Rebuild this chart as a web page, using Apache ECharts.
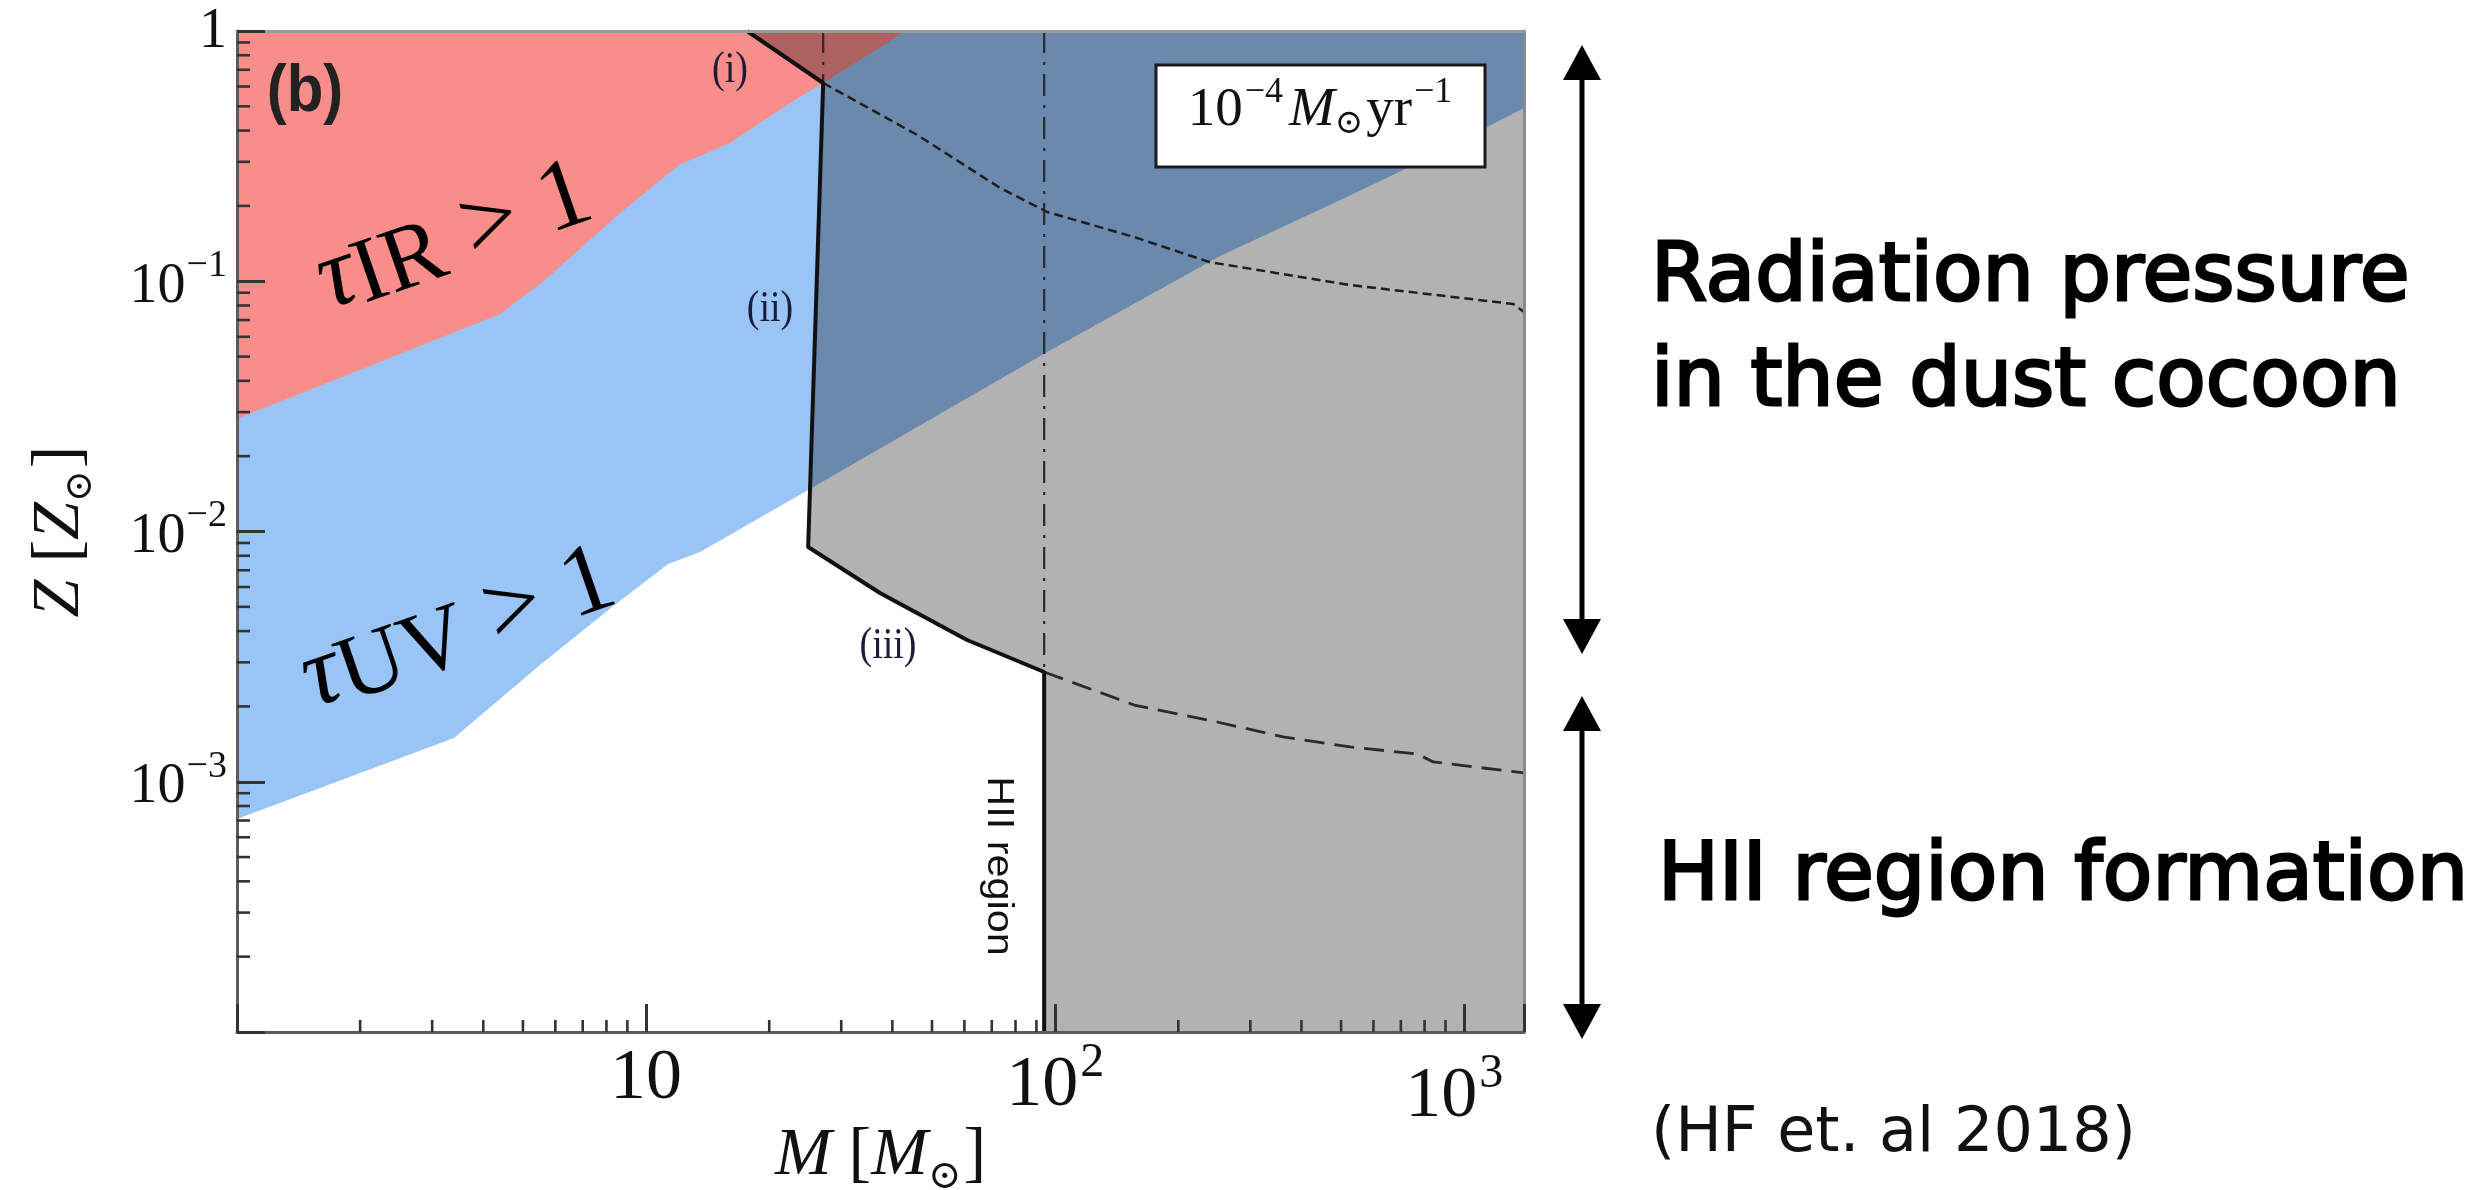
<!DOCTYPE html>
<html>
<head>
<meta charset="utf-8">
<script src="https://cdn.jsdelivr.net/npm/echarts@6/dist/echarts.min.js"></script>
<style>
  html, body { margin: 0; padding: 0; background: #ffffff; }
  #chart { width: 2489px; height: 1190px; }
</style>
</head>
<body>
<div id="chart"></div>
<script>
// ---------------- DATA ----------------
// Axis extents (log scales)
const massRange = [1, 1400];          // M [M_sun]
const metalRange = [1e-4, 1];         // Z [Z_sun]

// Lower edge of the tau_IR > 1 (red) region, from left edge to top edge
const irEdgeM = [1, 4.40, 5.66, 8.64, 12.04, 16.0, 23.3, 27.1, 43.2];
const irEdgeZ = [0.0282, 0.0740, 0.1011, 0.1874, 0.2914, 0.3567, 0.535, 0.6196, 1];

// Lower edge of the tau_UV > 1 (blue) region, from left edge to right edge
const uvEdgeM = [1, 3.39, 5.54, 8.26, 11.32, 13.55, 24.9, 95.6, 253, 498, 693, 1400];
const uvEdgeZ = [7.10e-4, 1.495e-3, 2.955e-3, 4.99e-3, 7.42e-3, 8.28e-3, 0.01466, 0.0522, 0.1262, 0.2113, 0.2733, 0.4923];

// Solid boundary (i)-(ii)-(iii)-HII region of the grey (failed) region
const boundaryM = [17.66, 27.1, 24.9, 37.3, 60.9, 94, 94];
const boundaryZ = [1, 0.6196, 8.67e-3, 5.68e-3, 3.685e-3, 2.745e-3, 1e-4];

// Fine dashed curve (upper)
const upperDashM = [27.1, 46.0, 73.4, 95.6, 156, 238, 526, 1318, 1400];
const upperDashZ = [0.6196, 0.3842, 0.2359, 0.1891, 0.1502, 0.1194, 0.0966, 0.0811, 0.0754];

// Long dashed curve (lower)
const lowerDashM = [94, 156, 249, 361, 526, 768, 840, 1113, 1400];
const lowerDashZ = [2.745e-3, 2.026e-3, 1.733e-3, 1.51e-3, 1.377e-3, 1.291e-3, 1.2e-3, 1.135e-3, 1.084e-3];

// Vertical dash-dot lines: mass, top Z, bottom Z
const dashDotM = [27.1, 94];
const dashDotTopZ = [1, 1];
const dashDotBottomZ = [0.6196, 2.745e-3];

// Tick labels
const xTickExponents = [1, 2, 3];
const yTickExponents = [0, -1, -2, -3];
const minorMultipliers = [2, 3, 4, 5, 6, 7, 8, 9];

// ---------------- helpers ----------------
const SERIF = "'Liberation Serif', 'DejaVu Serif', serif";
const SANS = "'DejaVu Sans', 'Noto Sans', sans-serif";

function pairs(xs, ys) { return xs.map((x, i) => [x, ys[i]]); }

function polygonSeries(points, fill, z) {
  return {
    type: 'custom', silent: true, z: z, clip: true,
    data: points,
    renderItem: function (params, api) {
      if (params.dataIndex !== 0) return null;
      const pts = points.map(p => api.coord(p));
      return { type: 'polygon', shape: { points: pts }, style: { fill: fill } };
    }
  };
}

function lineSeries(points, color, width, type, z) {
  return {
    type: 'line', data: points, symbol: 'none', silent: true, z: z,
    lineStyle: { color: color, width: width, type: type, cap: 'butt' },
    animation: false
  };
}

// minor tick values
const xMinor = [];
[1, 10, 100].forEach(d => minorMultipliers.forEach(m => { if (m * d < massRange[1]) xMinor.push(m * d); }));
const yMinor = [];
[1e-4, 1e-3, 1e-2, 1e-1].forEach(d => minorMultipliers.forEach(m => yMinor.push(+(m * d).toPrecision(3))));

// polygons
const bluePoly = pairs(uvEdgeM, uvEdgeZ).concat([[massRange[1], metalRange[1]], [massRange[0], metalRange[1]]]);
const redPoly = pairs(irEdgeM, irEdgeZ).concat([[massRange[0], metalRange[1]]]);
const greyPoly = pairs(boundaryM, boundaryZ).concat([[massRange[1], metalRange[0]], [massRange[1], metalRange[1]]]);

function expOf(v) { return Math.round(Math.log10(v)); }
function isPow(v) { return Math.abs(Math.log10(v) - expOf(v)) < 0.01; }

const option = {
  animation: false,
  backgroundColor: '#ffffff',
  grid: { left: 237, top: 31, right: 965, bottom: 158, containLabel: false, outerBoundsMode: 'none' },
  xAxis: [{
    type: 'log', logBase: 10, min: massRange[0], max: massRange[1], z: 10,
    axisLine: { show: true, onZero: false, lineStyle: { color: '#5c5c5c', width: 3 } },
    axisTick: { show: true, inside: true, length: 28, lineStyle: { color: '#333', width: 3 } },
    minorTick: { show: false }, splitLine: { show: false }, minorSplitLine: { show: false },
    axisLabel: {
      margin: 3, showMinLabel: true, showMaxLabel: true, hideOverlap: false,
      formatter: function (v) {
        if (!isPow(v)) return '';
        const e = expOf(v);
        if (e === 1) return '{a|10}';
        if (e === 2) return '{b|10}{bs|2}';
        if (e === 3) return '{c|10}{cs|3}';
        return '';
      },
      rich: {
        a: { fontFamily: SERIF, fontSize: 72, color: '#111', verticalAlign: 'top', padding: [8, 0, 0, 0] },
        b: { fontFamily: SERIF, fontSize: 72, color: '#111', verticalAlign: 'top', padding: [15, 0, 0, 0] },
        bs: { fontFamily: SERIF, fontSize: 48, color: '#111', verticalAlign: 'top', padding: [4, 0, 0, 2] },
        c: { fontFamily: SERIF, fontSize: 72, color: '#111', verticalAlign: 'top', padding: [26, 0, 0, 0] },
        cs: { fontFamily: SERIF, fontSize: 48, color: '#111', verticalAlign: 'top', padding: [15, 20, 0, 2] }
      }
    },
    name: '{i|M}{t| [}{i|M}{o|⊙}{t|]}',
    nameLocation: 'middle', nameGap: 90, nameMoveOverlap: false,
    nameTextStyle: {
      rich: {
        i: { fontFamily: SERIF, fontStyle: 'italic', fontSize: 68, color: '#111', verticalAlign: 'top' },
        t: { fontFamily: SERIF, fontSize: 68, color: '#111', verticalAlign: 'top' },
        o: { fontFamily: "'DejaVu Serif', serif", fontSize: 40, color: '#111', verticalAlign: 'top', padding: [36, 2, 0, 0] }
      }
    }
  }, {
    type: 'log', logBase: 10, min: massRange[0], max: massRange[1], position: 'top', z: 10,
    axisLine: { show: true, onZero: false, lineStyle: { color: '#9a9a9a', width: 3 } },
    axisTick: { show: false }, axisLabel: { show: false }, splitLine: { show: false }
  }],
  yAxis: [{
    type: 'log', logBase: 10, min: metalRange[0], max: metalRange[1], z: 10,
    axisLine: { show: true, onZero: false, lineStyle: { color: '#5c5c5c', width: 3 } },
    axisTick: { show: true, inside: true, length: 28, lineStyle: { color: '#333', width: 3 } },
    minorTick: { show: false }, splitLine: { show: false }, minorSplitLine: { show: false },
    axisLabel: {
      margin: 10, showMinLabel: true, showMaxLabel: true, hideOverlap: false,
      formatter: function (v) {
        if (!isPow(v)) return '';
        const e = expOf(v);
        if (yTickExponents.indexOf(e) < 0) return '';
        if (e === 0) return '{o|1}';
        return '{n|10}{s|−' + (-e) + '}';
      },
      rich: {
        o: { fontFamily: SERIF, fontSize: 56, color: '#111', verticalAlign: 'top', padding: [2, 0, 0, 0] },
        n: { fontFamily: SERIF, fontSize: 56, color: '#111', verticalAlign: 'top', padding: [12, 0, 0, 0] },
        s: { fontFamily: SERIF, fontSize: 38, color: '#111', verticalAlign: 'top', padding: [0, 0, 0, 1] }
      }
    },
    name: '{i|Z}{t| [}{i|Z}{o|⊙}{t|]}',
    nameLocation: 'middle', nameGap: 137, nameRotate: 90, nameMoveOverlap: false,
    nameTextStyle: {
      rich: {
        i: { fontFamily: SERIF, fontStyle: 'italic', fontSize: 68, color: '#111', verticalAlign: 'top' },
        t: { fontFamily: SERIF, fontSize: 68, color: '#111', verticalAlign: 'top' },
        o: { fontFamily: "'DejaVu Serif', serif", fontSize: 38, color: '#111', verticalAlign: 'top', padding: [36, 2, 0, 0] }
      }
    }
  }, {
    type: 'log', logBase: 10, min: metalRange[0], max: metalRange[1], position: 'right', z: 10,
    axisLine: { show: true, onZero: false, lineStyle: { color: '#8a8a8a', width: 3 } },
    axisTick: { show: false }, axisLabel: { show: false }, splitLine: { show: false }
  }],
  series: [
    polygonSeries(bluePoly, '#98c4f6', 1),
    polygonSeries(redPoly, '#f98d8a', 2),
    polygonSeries(greyPoly, 'rgba(0,0,0,0.30)', 3),
    lineSeries(pairs(upperDashM, upperDashZ), '#1e1e1e', 2.5, [9, 5], 4),
    lineSeries(pairs(lowerDashM, lowerDashZ), '#2a2a2a', 2.8, [20, 10], 4),
    lineSeries([[dashDotM[0], dashDotTopZ[0]], [dashDotM[0], dashDotBottomZ[0]]], '#2a2a2a', 2.2, [22, 9, 3, 9], 4),
    lineSeries([[dashDotM[1], dashDotTopZ[1]], [dashDotM[1], dashDotBottomZ[1]]], '#2a2a2a', 2.2, [22, 9, 3, 9], 4),
    lineSeries(pairs(boundaryM, boundaryZ), '#111111', 4, 'solid', 5),
    {
      type: 'custom', silent: true, z: 12, clip: false,
      data: xMinor.map(v => [v, metalRange[0]]),
      renderItem: function (params, api) {
        const p = api.coord([api.value(0), api.value(1)]);
        return { type: 'line', shape: { x1: p[0], y1: p[1], x2: p[0], y2: p[1] - 12 }, style: { stroke: '#333', lineWidth: 2.6 } };
      }
    },
    {
      type: 'custom', silent: true, z: 12, clip: false,
      data: yMinor.map(v => [massRange[0], v]),
      renderItem: function (params, api) {
        const p = api.coord([api.value(0), api.value(1)]);
        return { type: 'line', shape: { x1: p[0], y1: p[1], x2: p[0] + 13, y2: p[1] }, style: { stroke: '#333', lineWidth: 2.6 } };
      }
    }
  ],
  graphic: [
    // legend box inside the plot
    { type: 'rect', z: 100, shape: { x: 1156, y: 65, width: 329, height: 102 }, style: { fill: '#ffffff', stroke: '#1a1a1a', lineWidth: 3 } },
    { type: 'text', z: 101, x: 1321, y: 105, style: {
        text: '{n|10}{s|−4}{m|M}{b|⊙}{n|yr}{s|−1}', align: 'center', verticalAlign: 'middle',
        rich: {
          n: { fontFamily: SERIF, fontSize: 55, fill: '#111', verticalAlign: 'top', padding: [14, 0, 0, 0] },
          m: { fontFamily: SERIF, fontStyle: 'italic', fontSize: 55, fill: '#111', verticalAlign: 'top', padding: [14, 0, 0, 4] },
          s: { fontFamily: SERIF, fontSize: 36, fill: '#111', verticalAlign: 'top', padding: [6, 2, 0, 2] },
          b: { fontFamily: "'DejaVu Serif', serif", fontSize: 34, fill: '#111', verticalAlign: 'top', padding: [38, 3, 0, 0] }
        } } },
    // panel letter and region labels
    { type: 'text', z: 101, x: 305, y: 92, scaleY: 1.12, style: { text: '(b)', font: "bold 60px 'Liberation Sans', sans-serif", fill: '#222', align: 'center', verticalAlign: 'middle' } },
    { type: 'text', z: 101, x: 730, y: 71, scaleY: 1.15, style: { text: '(i)', font: "38px " + SERIF, fill: '#1c1c38', align: 'center', verticalAlign: 'middle' } },
    { type: 'text', z: 101, x: 770, y: 310, scaleY: 1.15, style: { text: '(ii)', font: "38px " + SERIF, fill: '#1c1c38', align: 'center', verticalAlign: 'middle' } },
    { type: 'text', z: 101, x: 888, y: 647, scaleY: 1.15, style: { text: '(iii)', font: "38px " + SERIF, fill: '#1c1c38', align: 'center', verticalAlign: 'middle' } },
    { type: 'text', z: 101, x: 998, y: 866, rotation: -Math.PI / 2, scaleX: 1.15, style: { text: 'HII region', font: "36px 'Liberation Sans', sans-serif", fill: '#111', align: 'center', verticalAlign: 'middle' } },
    { type: 'text', z: 101, x: 455, y: 240, rotation: 19 * Math.PI / 180, style: {
        text: '{t|τ}{r|IR}{o| > 1}', align: 'center', verticalAlign: 'middle',
        rich: {
          t: { fontFamily: SERIF, fontStyle: 'italic', fontSize: 100, fill: '#000', verticalAlign: 'top' },
          r: { fontFamily: SERIF, fontSize: 92, fill: '#000', verticalAlign: 'top', padding: [12, 0, 0, 0] },
          o: { fontFamily: SERIF, fontSize: 100, fill: '#000', verticalAlign: 'top' }
        } } },
    { type: 'text', z: 101, x: 459, y: 632, rotation: 19 * Math.PI / 180, style: {
        text: '{t|τ}{r|UV}{o| > 1}', align: 'center', verticalAlign: 'middle',
        rich: {
          t: { fontFamily: SERIF, fontStyle: 'italic', fontSize: 100, fill: '#000', verticalAlign: 'top' },
          r: { fontFamily: SERIF, fontSize: 92, fill: '#000', verticalAlign: 'top', padding: [12, 0, 0, 0] },
          o: { fontFamily: SERIF, fontSize: 100, fill: '#000', verticalAlign: 'top' }
        } } },
    // right-side arrows
    { type: 'line', z: 100, shape: { x1: 1582, y1: 76, x2: 1582, y2: 623 }, style: { stroke: '#000', lineWidth: 5 } },
    { type: 'polygon', z: 100, shape: { points: [[1582, 45], [1563, 80], [1601, 80]] }, style: { fill: '#000' } },
    { type: 'polygon', z: 100, shape: { points: [[1582, 654], [1563, 619], [1601, 619]] }, style: { fill: '#000' } },
    { type: 'line', z: 100, shape: { x1: 1582, y1: 727, x2: 1582, y2: 1008 }, style: { stroke: '#000', lineWidth: 5 } },
    { type: 'polygon', z: 100, shape: { points: [[1582, 696], [1563, 731], [1601, 731]] }, style: { fill: '#000' } },
    { type: 'polygon', z: 100, shape: { points: [[1582, 1039], [1563, 1004], [1601, 1004]] }, style: { fill: '#000' } },
    // right-side annotations
    { type: 'text', z: 100, x: 1651, y: 279, style: { text: 'Radiation pressure', font: "81px " + SANS, fill: '#000', stroke: '#000', lineWidth: 2.8, align: 'left', verticalAlign: 'middle' } },
    { type: 'text', z: 100, x: 1651, y: 384, style: { text: 'in the dust cocoon', font: "81px " + SANS, fill: '#000', stroke: '#000', lineWidth: 2.8, align: 'left', verticalAlign: 'middle' } },
    { type: 'text', z: 100, x: 1658, y: 878, style: { text: 'HII region formation', font: "81px " + SANS, fill: '#000', stroke: '#000', lineWidth: 2.8, align: 'left', verticalAlign: 'middle' } },
    { type: 'text', z: 100, x: 1651, y: 1135, style: { text: '(HF et. al 2018)', font: "62px " + SANS, fill: '#111', align: 'left', verticalAlign: 'middle' } }
  ]
};

const chart = echarts.init(document.getElementById('chart'), null, { renderer: 'canvas' });
chart.setOption(option);
</script>
</body>
</html>
